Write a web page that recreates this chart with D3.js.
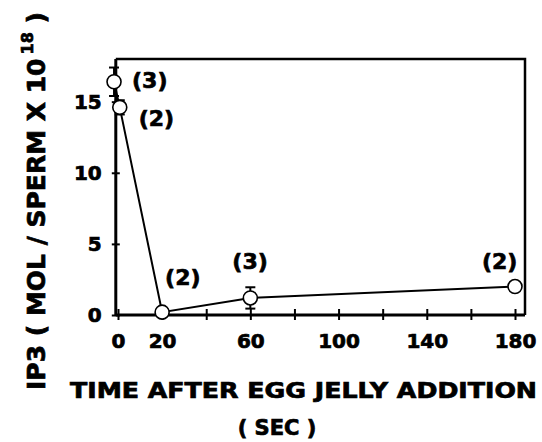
<!DOCTYPE html>
<html>
<head>
<meta charset="utf-8">
<script src="https://cdn.jsdelivr.net/npm/d3@7"></script>
<style>
  body { margin: 0; background: #fff; }
  svg { display: block; font-family: "DejaVu Sans", sans-serif; font-weight: bold; }
  svg text { stroke: #000; stroke-width: 0.7px; fill: #000; }
</style>
</head>
<body>
<svg id="chart"></svg>
<script>
const width = 542;
const height = 442;

// data
const times = [-1.8, 0.8, 20, 60, 180];          // sec
const ip3 = [16.4, 14.6, 0.2, 1.2, 2.0];          // mol / sperm x 10^18
const errs = [1.0, 0.5, 0, 0.75, 0];
const nLabels = ["(3)", "(2)", "(2)", "(3)", "(2)"];
const labelOffsets = [[18, 6], [19, 19], [3, -27], [-18, -29], [-33, -18]];

const xTicks = [0, 20, 40, 60, 80, 100, 120, 140, 160, 180];
const xTickLabels = [0, 20, 60, 100, 140, 180];
const yTicks = [0, 5, 10, 15];

const margin = { left: 118, right: 17, top: 59, bottom: 127 };

const svg = d3.select("#chart")
    .attr("width", width)
    .attr("height", height);

const x = d3.scaleLinear()
    .domain([0, 180])
    .range([margin.left, 515]);

const y = d3.scaleLinear()
    .domain([0, 18])
    .range([height - margin.bottom, margin.top]);

const x0 = x(-1), x1 = width - margin.right;

// frame (top + right)
svg.append("path")
    .attr("d", `M${x0},${y(18)}H${x1}V${y(0)}`)
    .attr("fill", "none")
    .attr("stroke", "#000")
    .attr("stroke-width", 2.5);

// x axis
const xAxis = svg.append("g")
    .attr("transform", `translate(0,${y(0)})`)
    .call(d3.axisBottom(x)
        .tickValues(xTicks)
        .tickSize(5)
        .tickPadding(14)
        .tickFormat(d => xTickLabels.includes(d) ? d : ""));
xAxis.select(".domain").remove();
xAxis.append("line")
    .attr("x1", x0).attr("x2", x1)
    .attr("stroke", "#000").attr("stroke-width", 3);
xAxis.selectAll(".tick line")
    .attr("y1", -6).attr("y2", 5)
    .attr("stroke-width", 2);
xAxis.selectAll(".tick text")
    .attr("font-size", 20)
    .attr("font-family", "DejaVu Sans")
    .attr("font-weight", "bold");

// y axis
const yAxis = svg.append("g")
    .attr("transform", `translate(${x0},0)`)
    .call(d3.axisLeft(y)
        .tickValues(yTicks)
        .tickSize(4)
        .tickPadding(10));
yAxis.select(".domain").remove();
yAxis.append("line")
    .attr("y1", y(18)).attr("y2", y(0))
    .attr("stroke", "#000").attr("stroke-width", 3);
yAxis.selectAll(".tick line")
    .attr("x1", -4).attr("x2", 4)
    .attr("stroke-width", 2);
yAxis.selectAll(".tick text")
    .attr("font-size", 20)
    .attr("font-family", "DejaVu Sans")
    .attr("font-weight", "bold");

const pts = times.map((t, i) => ({ t, v: ip3[i], e: errs[i], n: nLabels[i], o: labelOffsets[i] }));

// connecting line
svg.append("path")
    .datum(pts)
    .attr("fill", "none")
    .attr("stroke", "#000")
    .attr("stroke-width", 2)
    .attr("d", d3.line().x(d => x(d.t)).y(d => y(d.v)));

// error bars
const eb = svg.selectAll(".err")
    .data(pts.filter(d => d.e > 0))
    .enter().append("g")
    .attr("class", "err");
eb.append("line")
    .attr("x1", d => x(d.t)).attr("x2", d => x(d.t))
    .attr("y1", d => y(d.v + d.e)).attr("y2", d => y(d.v - d.e))
    .attr("stroke", "#000").attr("stroke-width", 2);
eb.selectAll(".cap")
    .data(d => [[d.t, d.v + d.e], [d.t, d.v - d.e]])
    .enter().append("line")
    .attr("x1", d => x(d[0]) - 5).attr("x2", d => x(d[0]) + 5)
    .attr("y1", d => y(d[1])).attr("y2", d => y(d[1]))
    .attr("stroke", "#000").attr("stroke-width", 2);

// points
svg.selectAll(".pt")
    .data(pts)
    .enter().append("circle")
    .attr("class", "pt")
    .attr("cx", d => x(d.t))
    .attr("cy", d => y(d.v))
    .attr("r", 7)
    .attr("fill", "#fff")
    .attr("stroke", "#000")
    .attr("stroke-width", 1.6);

// n labels
svg.selectAll(".nlab")
    .data(pts)
    .enter().append("text")
    .attr("class", "nlab")
    .attr("x", d => x(d.t) + d.o[0])
    .attr("y", d => y(d.v) + d.o[1])
    .attr("font-size", 22)
    .text(d => d.n);

// axis titles
svg.append("text")
    .attr("x", 70)
    .attr("y", 398)
    .attr("font-size", 21)
    .attr("textLength", 467)
    .attr("lengthAdjust", "spacingAndGlyphs")
    .text("TIME AFTER EGG JELLY ADDITION");

svg.append("text")
    .attr("x", 277)
    .attr("y", 435)
    .attr("text-anchor", "middle")
    .attr("font-size", 21)
    .text("( SEC )");

const yt = svg.append("text")
    .attr("transform", "translate(45,201) rotate(-90)")
    .attr("text-anchor", "middle")
    .attr("font-size", 25);
yt.append("tspan").text("IP3 ( MOL / SPERM X 10");
yt.append("tspan").attr("font-size", 16).attr("dy", -12).attr("dx", 4).text("18");
yt.append("tspan").attr("dy", 12).text(" )");
</script>
</body>
</html>
